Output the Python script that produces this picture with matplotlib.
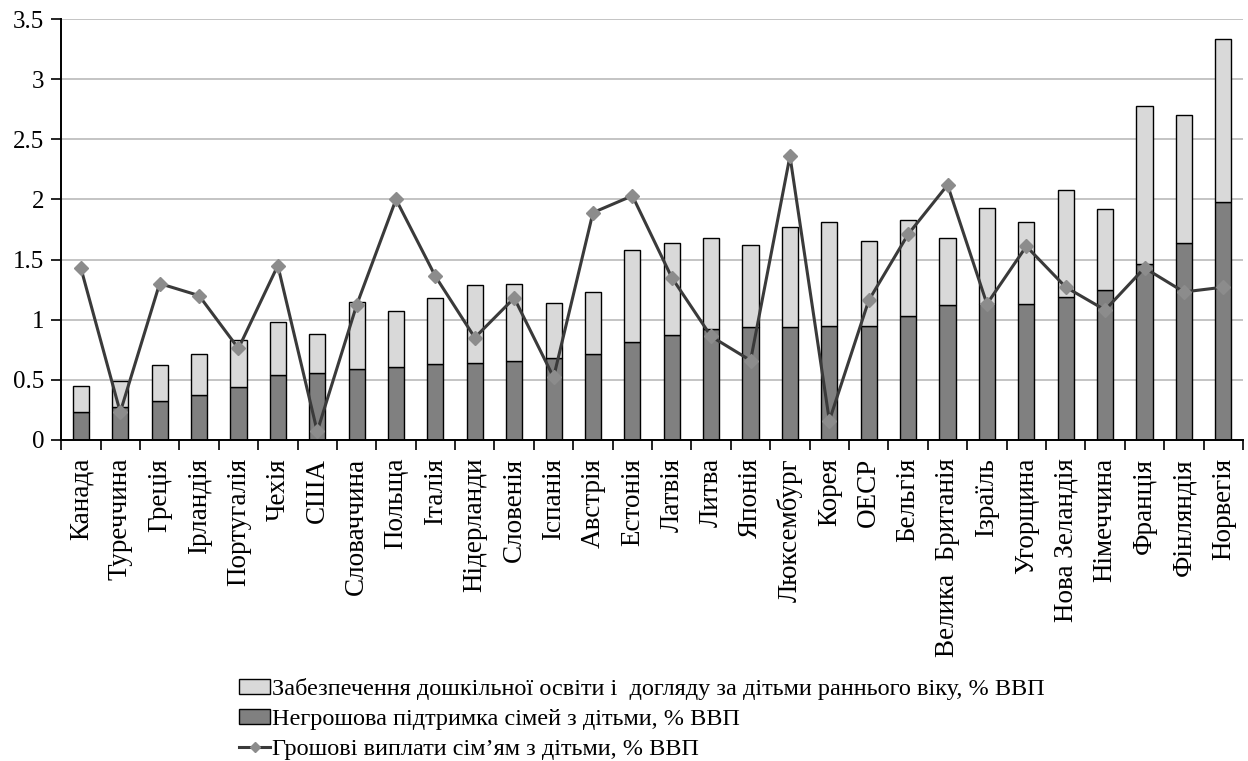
import matplotlib.pyplot as plt
from matplotlib.patches import Patch
from matplotlib.lines import Line2D
import numpy as np

plt.rcParams["font.family"] = ["Liberation Serif", "DejaVu Serif"]

COUNTRIES = [
    "Канада", "Туреччина", "Греція", "Ірландія", "Португалія", "Чехія", "США",
    "Словаччина", "Польща", "Італія", "Нідерланди", "Словенія", "Іспанія",
    "Австрія", "Естонія", "Латвія", "Литва", "Японія", "Люксембург", "Корея",
    "ОЕСР", "Бельгія", "Велика  Британія", "Ізраїль", "Угорщина",
    "Нова Зеландія", "Німеччина", "Франція", "Фінляндія", "Норвегія",
]
# non-cash support (lower segment), % of GDP
NON_CASH = [
    0.23, 0.27, 0.32, 0.37, 0.44, 0.54, 0.56, 0.59, 0.61, 0.63,
    0.64, 0.66, 0.68, 0.71, 0.81, 0.87, 0.92, 0.94, 0.94, 0.95,
    0.95, 1.03, 1.12, 1.13, 1.13, 1.19, 1.25, 1.46, 1.64, 1.98,
]
# early childhood education and care (upper segment), % of GDP
ECEC = [
    0.22, 0.22, 0.30, 0.34, 0.39, 0.44, 0.32, 0.56, 0.46, 0.55,
    0.65, 0.64, 0.46, 0.52, 0.77, 0.77, 0.76, 0.68, 0.83, 0.86,
    0.70, 0.80, 0.56, 0.80, 0.68, 0.89, 0.67, 1.32, 1.06, 1.35,
]
# cash benefits, % of GDP
CASH = [
    1.43, 0.23, 1.30, 1.20, 0.76, 1.45, 0.07, 1.12, 2.00, 1.36,
    0.85, 1.18, 0.52, 1.89, 2.03, 1.35, 0.86, 0.66, 2.36, 0.16,
    1.16, 1.71, 2.12, 1.13, 1.61, 1.27, 1.08, 1.43, 1.23, 1.27,
]

LIGHT = "#d9d9d9"
DARK = "#808080"
LINE = "#3a3a3a"
MARK = "#8c8c8c"

fig = plt.figure(figsize=(12.48, 7.61), dpi=100)
ax = fig.add_axes([0.049, 0.422, 0.947, 0.553])

x = np.arange(len(COUNTRIES))
ax.bar(x, NON_CASH, width=0.41, color=DARK, edgecolor="black", linewidth=1.0, zorder=2)
ax.bar(x, ECEC, width=0.41, bottom=NON_CASH, color=LIGHT, edgecolor="black",
       linewidth=1.0, zorder=2)
ax.plot(x, CASH, color=LINE, linewidth=2.2, marker="D", markersize=7,
        markerfacecolor=MARK, markeredgecolor=MARK, zorder=3)

ax.set_xlim(-0.5, len(COUNTRIES) - 0.5)
ax.set_ylim(0, 3.5)
ax.set_yticks(np.arange(0, 3.51, 0.5))
ax.set_yticklabels(["0", "0.5", "1", "1.5", "2", "2.5", "3", "3.5"], fontsize=18)
ax.yaxis.grid(True, color="#c4c4c4", linewidth=1.4, zorder=0)
ax.set_axisbelow(True)

ax.set_xticks(x)
ax.set_xticklabels(COUNTRIES, rotation=90, fontsize=19.5, va="top", ha="center")
ax.tick_params(axis="x", which="major", length=0, pad=13)
ax.set_xticks(np.arange(-0.5, len(COUNTRIES), 1.0), minor=True)
ax.tick_params(axis="x", which="minor", length=7, width=1.2, direction="out")
ax.tick_params(axis="y", length=7, width=1.2, direction="out", pad=5)

for side in ("top", "right"):
    ax.spines[side].set_visible(False)
ax.spines["left"].set_linewidth(1.4)
ax.spines["bottom"].set_linewidth(1.4)

handles = [
    Patch(facecolor=LIGHT, edgecolor="black", linewidth=1.0),
    Patch(facecolor=DARK, edgecolor="black", linewidth=1.0),
    Line2D([], [], color=LINE, linewidth=2.2, marker="D", markersize=5,
           markerfacecolor=MARK, markeredgecolor=MARK),
]
labels = [
    "Забезпечення дошкільної освіти і  догляду за дітьми раннього віку, % ВВП",
    "Негрошова підтримка сімей з дітьми, % ВВП",
    "Грошові виплати сім’ям з дітьми, % ВВП",
]
fig.legend(handles, labels, loc="upper left", bbox_to_anchor=(0.184, 0.122),
           frameon=False, fontsize=17.5, handlelength=1.25, handleheight=0.55,
           handletextpad=0.1, labelspacing=0.38, borderaxespad=0)

fig.savefig("out.png", dpi=100)
